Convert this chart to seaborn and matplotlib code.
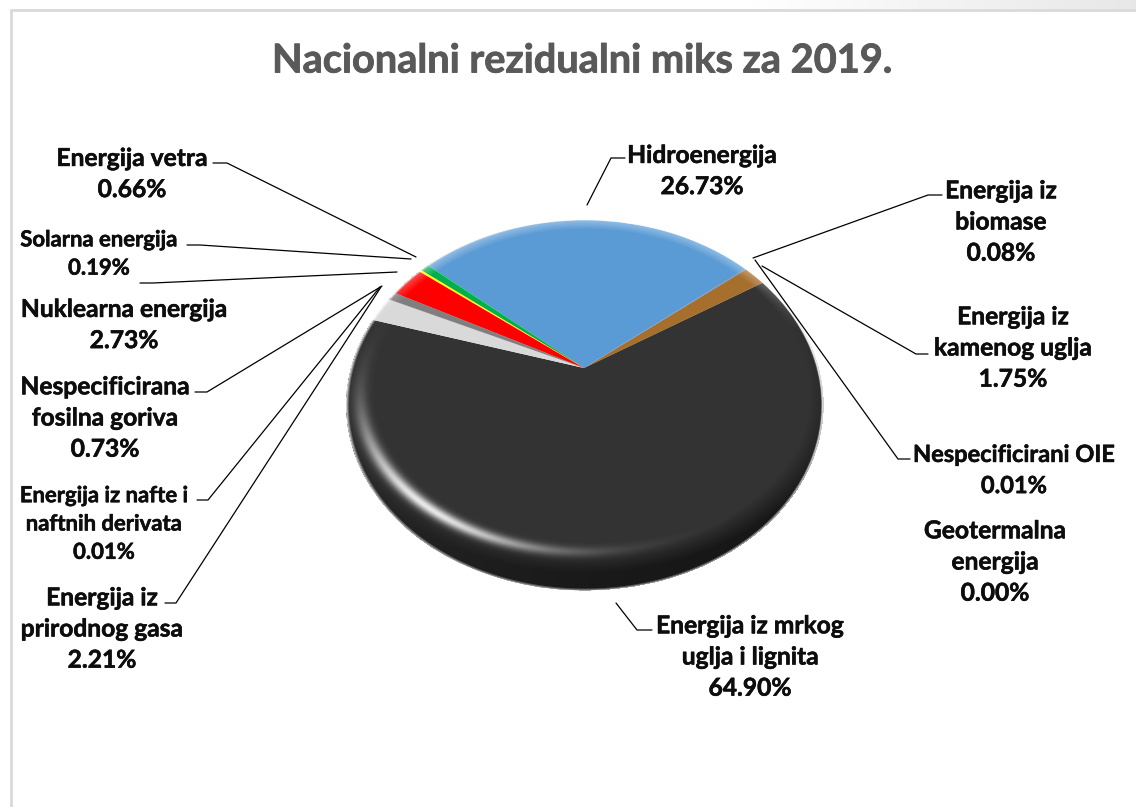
import numpy as np
import matplotlib
matplotlib.use("Agg")
import matplotlib.pyplot as plt
import matplotlib.patheffects as pe
import matplotlib.transforms as mtransforms
import seaborn as sns

# Slices, clockwise, starting at Hidroenergija
names = ["Hidroenergija", "Energija iz\nbiomase", "Energija iz\nkamenog uglja",
         "Nespecificirani OIE", "Geotermalna\nenergija",
         "Energija iz mrkog\nuglja i lignita", "Energija iz\nprirodnog gasa",
         "Energija iz nafte i\nnaftnih derivata", "Nespecificirana\nfosilna goriva",
         "Nuklearna energija", "Solarna energija", "Energija vetra"]
shares = [26.73, 0.08, 1.75, 0.01, 0.00, 64.90, 2.21, 0.01, 0.73, 2.73, 0.19, 0.66]
slice_colors = ["#5B9BD5", "#7F7F7F", "#A66F2E", "#7F6000", "#000000", "#333333",
                "#D9D9D9", "#C00000", "#7F7F7F", "#FF0000", "#FFFF00", "#00B050"]
title = "Nacionalni rezidualni miks za 2019."

# Label layout in pixels: centre x, centre y, font size
label_pos = [(702, 171, 17.7), (1001, 222, 17.7), (1013, 348, 17.7), (1014, 470, 17.0),
             (995, 562, 17.7), (750, 657, 17.7), (102, 629, 17.7), (104, 524, 15.9),
             (105, 418, 17.7), (124, 325, 17.7), (99, 254, 15.9), (132, 174, 17.7)]
# Leader lines in pixels
leaders = [[(625, 158), (611, 158), (587, 205)],
           [(942, 195), (928, 195), (753, 258)],
           [(928, 354), (916, 354), (762, 266)],
           [(910, 459), (898, 459), (755, 260)],
           [(652, 630), (637, 630), (616, 603)],
           [(165, 603), (176, 603), (381, 287)],
           [(197, 500), (208, 500), (380, 287)],
           [(195, 392), (207, 392), (382, 286)],
           [(140, 283), (153, 283), (397, 272)],
           [(187, 245), (200, 245), (411, 259)],
           [(213, 163), (227, 163), (416, 257)]]

W, H = 1136, 807
APEX_X, APEX_Y = 584, 368
TILT, SCALE_X, SCALE_Y = 0.2, 233, 177.6


class TiltTransform(mtransforms.Transform):
    # Perspective view of the unit pie, in pixel coordinates
    input_dims = 2
    output_dims = 2
    is_separable = False
    has_inverse = False

    def transform_non_affine(self, values):
        values = np.asarray(values, dtype=float)
        radius = np.hypot(values[:, 0], values[:, 1])
        # the original's perspective opens the far side a little more
        beta = np.arctan2(values[:, 0], values[:, 1])
        beta = beta + np.radians(2.8) * np.sin(beta) + np.radians(0.3)
        x, y = radius * np.sin(beta), radius * np.cos(beta)
        depth = 1 + TILT * y
        return np.column_stack([APEX_X + SCALE_X * x / depth,
                                APEX_Y - SCALE_Y * y / depth])


sns.set_theme(style="white")
plt.rcParams["font.family"] = ["Lato", "DejaVu Sans"]

fig = plt.figure(figsize=(W / 100, H / 100), dpi=100)
ax = fig.add_axes([0, 0, 1, 1])

wedges, _ = ax.pie(shares, colors=sns.color_palette(slice_colors), startangle=137.5,
                   counterclock=False, wedgeprops={"linewidth": 0})
for w in wedges:
    w.set_transform(TiltTransform() + ax.transData)
    w.set_clip_on(False)

ax.set_aspect("auto")
ax.set_xlim(0, W)
ax.set_ylim(H, 0)
ax.set_axis_off()

# Soft bevel on top of the slices
xx, yy = np.meshgrid(np.arange(W) + 0.5, np.arange(H) + 0.5)
r_outer = np.hypot((xx - 585) / 238, (yy - 405) / 185)
dx, dy = (xx - 585) / 225, (yy - 395) / 157
r_inner = np.hypot(dx, dy)
phi = np.degrees(np.arctan2(dy, dx))
phi = np.where(phi < -90, phi + 360, phi)

shade = np.zeros((H, W, 4))
dark = 0.55 * np.clip((r_inner - 1) / 0.13, 0, 1) * np.clip((yy - 290) / 90, 0, 1)
dark *= np.clip(0.55 + 0.45 * np.cos(np.radians(phi - 50)), 0, 1)
glow = 0.9 * np.exp(-((r_inner - 1) / 0.034) ** 2) * np.exp(-((phi - 135) / 36) ** 2)
edge = np.clip((r_outer - 0.99) / 0.012, 0, 1) * 0.8
edge = np.maximum(edge, 0.35 * np.clip((r_outer - 0.95) / 0.05, 0, 1) * np.clip((330 - yy) / 60, 0, 1))
light = np.maximum(glow, edge)
shade[..., :3] = (light / np.maximum(light + dark, 1e-6))[..., None]
shade[..., 3] = np.clip(light + dark * (1 - light), 0, 1) * (r_outer <= 1.003)
ax.imshow(shade, extent=(0, W, H, 0), aspect="auto", zorder=3, interpolation="bilinear")

# Top strip and chart border
strip = np.tile(np.linspace(1, 0.905, 400), (9, 1))
ax.imshow(strip, extent=(W - 400, W, 9, 0), cmap="gray", vmin=0, vmax=1, aspect="auto", zorder=1)
ax.plot([11, 11, W], [H, 10, 10], color="#D9D9D9", lw=2, zorder=2, solid_joinstyle="miter")

for line in leaders:
    xs, ys = zip(*line)
    ax.plot(xs, ys, color="black", lw=0.9, zorder=4)

ax.text(582, 61, title, ha="center", va="center", fontsize=28.6, fontweight="bold", color="#595959",
        zorder=5, path_effects=[pe.withStroke(linewidth=0.6, foreground="#595959")])
for name, share, (x, y, size) in zip(names, shares, label_pos):
    ax.text(x, y, f"{name}\n{share:.2f}%", ha="center", va="center", ma="center",
            fontsize=size, fontweight="bold", color="#0D0D0D", linespacing=1.43, zorder=5,
            path_effects=[pe.withStroke(linewidth=0.4, foreground="#0D0D0D")])

ax.set_xlim(0, W)
ax.set_ylim(H, 0)
fig.savefig("out.png", dpi=100, facecolor="white")
